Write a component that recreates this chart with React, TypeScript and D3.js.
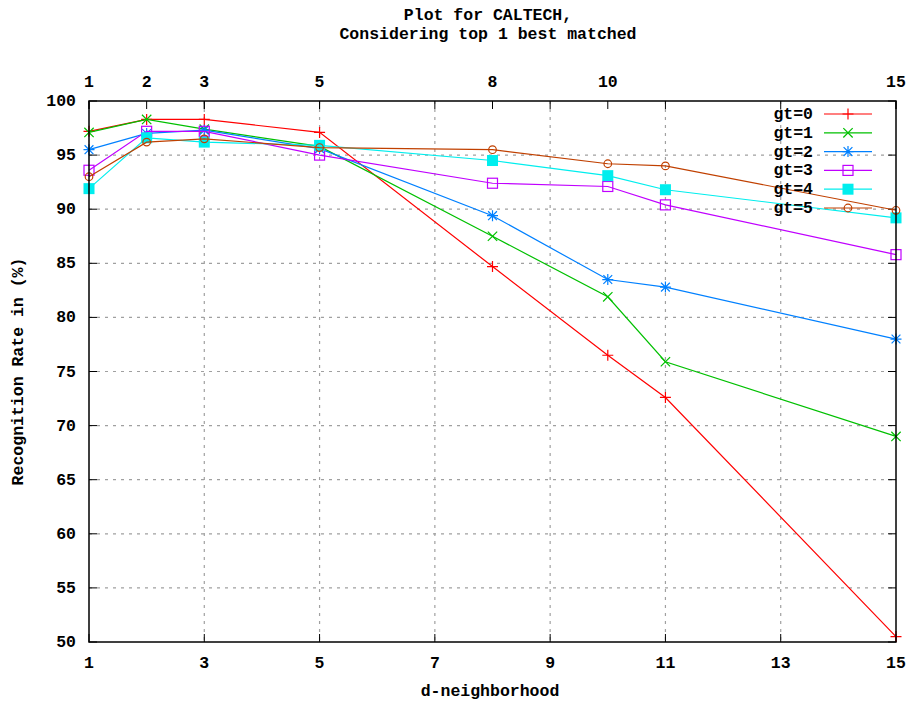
import React from 'react';
import * as d3 from 'd3';

const xs = [1, 2, 3, 5, 8, 10, 11, 15];
const gt0 = [97.2, 98.3, 98.3, 97.1, 84.7, 76.5, 72.6, 50.5];
const gt1 = [97.1, 98.3, 97.4, 95.8, 87.5, 81.9, 75.9, 69.0];
const gt2 = [95.5, 97.0, 97.3, 95.6, 89.4, 83.5, 82.8, 78.0];
const gt3 = [93.6, 97.2, 97.2, 95.0, 92.4, 92.1, 90.4, 85.8];
const gt4 = [91.9, 96.6, 96.2, 95.9, 94.5, 93.1, 91.8, 89.2];
const gt5 = [93.0, 96.2, 96.5, 95.7, 95.5, 94.2, 94.0, 89.9];

const names = ['gt=0', 'gt=1', 'gt=2', 'gt=3', 'gt=4', 'gt=5'];
const colors = ['#ff0000', '#00c000', '#0080ff', '#c000ff', '#00eeee', '#c04000'];
const markers = ['plus', 'cross', 'star', 'box', 'fbox', 'circle'];
const allSeries = [gt0, gt1, gt2, gt3, gt4, gt5];

const bottomTicks = [1, 3, 5, 7, 9, 11, 13, 15];
const topTicks = [1, 2, 3, 5, 8, 10, 15];
const yTicks = [50, 55, 60, 65, 70, 75, 80, 85, 90, 95, 100];

const W = 909;
const H = 704;
const left = 89, right = 896, top = 101, bottom = 642;
const font = '"Liberation Mono", "DejaVu Sans Mono", monospace';

const x = d3.scaleLinear().domain([1, 15]).range([left, right]);
const y = d3.scaleLinear().domain([50, 100]).range([bottom, top]);

function Marker({ kind, cx, cy, color }: { kind: string; cx: number; cy: number; color: string }) {
  const s = 5.5;
  const sw = 1.2;
  if (kind === 'plus') {
    return <path d={`M${cx - s},${cy}H${cx + s}M${cx},${cy - s}V${cy + s}`} stroke={color} strokeWidth={sw} fill="none" />;
  }
  if (kind === 'cross') {
    const d = s * 0.85;
    return <path d={`M${cx - d},${cy - d}L${cx + d},${cy + d}M${cx - d},${cy + d}L${cx + d},${cy - d}`} stroke={color} strokeWidth={sw} fill="none" />;
  }
  if (kind === 'star') {
    const d = s * 0.8;
    return (
      <path
        d={`M${cx - s},${cy}H${cx + s}M${cx},${cy - s}V${cy + s}M${cx - d},${cy - d}L${cx + d},${cy + d}M${cx - d},${cy + d}L${cx + d},${cy - d}`}
        stroke={color} strokeWidth={sw} fill="none" />
    );
  }
  if (kind === 'box') {
    return <rect x={cx - 5} y={cy - 5} width={10} height={10} stroke={color} strokeWidth={sw} fill="none" />;
  }
  if (kind === 'fbox') {
    return <rect x={cx - 5.5} y={cy - 5.5} width={11} height={11} fill={color} />;
  }
  return <circle cx={cx} cy={cy} r={3.8} stroke={color} strokeWidth={sw} fill="none" />;
}

export default function App() {
  const line = d3.line<number>().x((_, i) => x(xs[i])).y((d) => y(d));
  const tickLen = 8;

  return (
    <svg width={W} height={H} style={{ display: 'block', position: 'absolute', left: 0, top: 0, background: '#fff' }}>
      <rect width={W} height={H} fill="#fff" />
      {/* title */}
      <g fontFamily={font} fontWeight="bold" fontSize={16.5} textAnchor="middle" fill="#000">
        <text x={488} y={20}>Plot for CALTECH,</text>
        <text x={488} y={39}>Considering top 1 best matched</text>
      </g>

      {/* grid */}
      <g stroke="#a0a0a0" strokeDasharray="3,5" strokeWidth={1.2}>
        {yTicks.filter((t) => t > 50 && t < 100).map((t) => (
          <line key={'gy' + t} x1={left} x2={right} y1={y(t)} y2={y(t)} />
        ))}
        {bottomTicks.filter((t) => t > 1 && t < 15).map((t) => (
          <line key={'gx' + t} x1={x(t)} x2={x(t)} y1={top} y2={bottom} />
        ))}
      </g>

      {/* tick marks */}
      <g stroke="#000" strokeWidth={1}>
        {yTicks.map((t) => (
          <g key={'ty' + t}>
            <line x1={left} x2={left + tickLen} y1={y(t)} y2={y(t)} />
            <line x1={right - tickLen} x2={right} y1={y(t)} y2={y(t)} />
          </g>
        ))}
        {bottomTicks.map((t) => (
          <g key={'tb' + t}>
            <line x1={x(t)} x2={x(t)} y1={bottom} y2={bottom - tickLen} />
            <line x1={x(t)} x2={x(t)} y1={top} y2={top + tickLen} />
          </g>
        ))}
        {topTicks.map((t) => (
          <line key={'tt' + t} x1={x(t)} x2={x(t)} y1={top} y2={top + tickLen} />
        ))}
      </g>

      {/* tick labels */}
      <g fontFamily={font} fontWeight="bold" fontSize={16.5} fill="#000">
        {yTicks.map((t) => (
          <text key={'ly' + t} x={76} y={y(t) + 5} textAnchor="end">{t}</text>
        ))}
        {bottomTicks.map((t) => (
          <text key={'lb' + t} x={x(t)} y={668} textAnchor="middle">{t}</text>
        ))}
        {topTicks.map((t) => (
          <text key={'lt' + t} x={x(t)} y={87} textAnchor="middle">{t}</text>
        ))}
        <text x={490} y={696} textAnchor="middle">d-neighborhood</text>
        <text transform={`translate(23,${(top + bottom) / 2 + 0}) rotate(-90)`} textAnchor="middle">Recognition Rate in (%)</text>
      </g>

      {/* series */}
      {allSeries.map((vals, si) => (
        <g key={names[si]}>
          <path d={line(vals) || ''} fill="none" stroke={colors[si]} strokeWidth={1.2} />
          {vals.map((v, i) => (
            <Marker key={i} kind={markers[si]} cx={x(xs[i])} cy={y(v)} color={colors[si]} />
          ))}
        </g>
      ))}

      {/* legend */}
      <g fontFamily={font} fontWeight="bold" fontSize={16.5}>
        {names.map((n, i) => {
          const ly = 114 + i * 18.8;
          return (
            <g key={'lg' + n}>
              <text x={813} y={ly + 5} textAnchor="end" fill="#000">{n}</text>
              <line x1={824} x2={872} y1={ly} y2={ly} stroke={colors[i]} strokeWidth={1.2} />
              <Marker kind={markers[i]} cx={848} cy={ly} color={colors[i]} />
            </g>
          );
        })}
      </g>

      {/* border */}
      <rect x={left} y={top} width={right - left} height={bottom - top} fill="none" stroke="#000" strokeWidth={1.5} />
    </svg>
  );
}
